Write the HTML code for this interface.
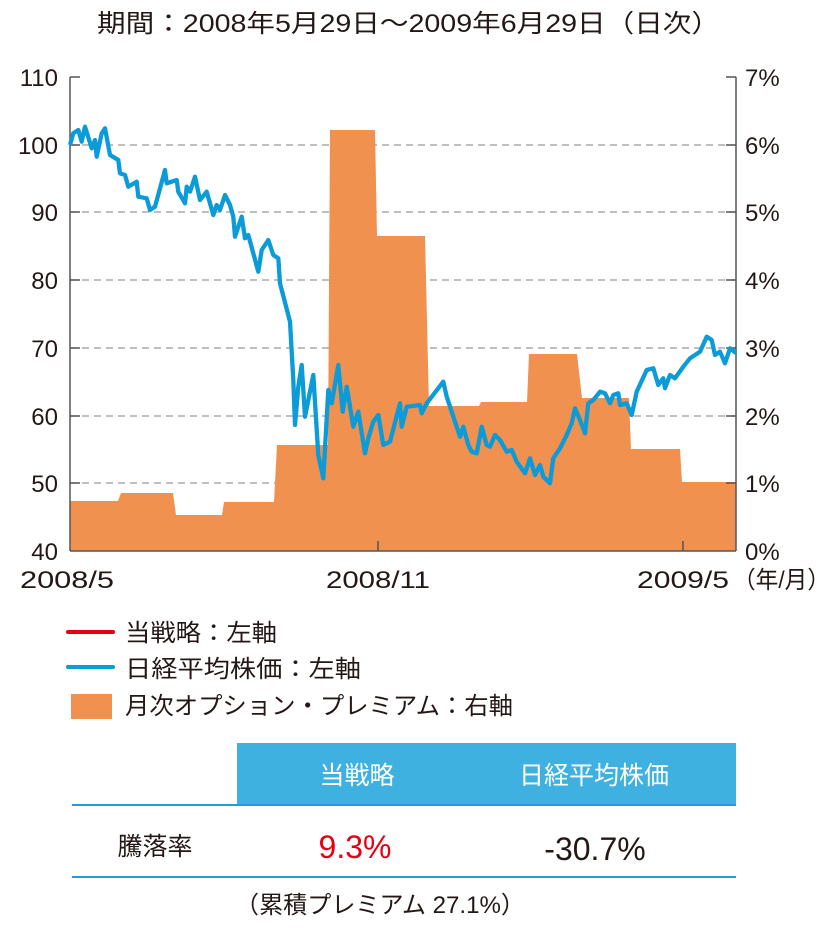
<!DOCTYPE html>
<html><head><meta charset="utf-8">
<style>
html,body{margin:0;padding:0;background:#fff;}
svg{display:block;}
text{font-family:"Liberation Sans","Noto Sans CJK JP",sans-serif;fill:#231815;}
</style></head>
<body>
<svg width="834" height="930" viewBox="0 0 834 930" xmlns="http://www.w3.org/2000/svg">
<text x="97" y="32" font-size="25" textLength="623" lengthAdjust="spacingAndGlyphs">期間：2008年5月29日～2009年6月29日（日次）</text>
<g stroke="#999" stroke-width="1.3" stroke-dasharray="7,5">
<line x1="70" y1="145" x2="736" y2="145"/>
<line x1="70" y1="212" x2="736" y2="212"/>
<line x1="70" y1="280" x2="736" y2="280"/>
<line x1="70" y1="348" x2="736" y2="348"/>
<line x1="70" y1="416" x2="736" y2="416"/>
<line x1="70" y1="483" x2="736" y2="483"/>
</g>
<polygon fill="#f09150" points="70,551 70,501 118,501 121,493 173,493 176,515 222,515 224,502 274,502 277,445 328,445 330,130 375,130 377,236 425,236 429,406 479,406 481,402 527,402 529,354 577,354 582,398 629,398 631,449 680,449 682,482 736,482 736,551"/>
<g stroke="#555" stroke-width="1.5">
<line x1="70" y1="77" x2="70" y2="551"/>
<line x1="736" y1="77" x2="736" y2="551"/>
<line x1="70" y1="551" x2="736" y2="551"/>
<line x1="378" y1="541" x2="378" y2="551"/>
<line x1="683" y1="541" x2="683" y2="551"/>
</g>
<g stroke="#555" stroke-width="1.5">
<line x1="70" y1="77" x2="80" y2="77"/><line x1="70" y1="145" x2="80" y2="145"/><line x1="70" y1="212" x2="80" y2="212"/><line x1="70" y1="280" x2="80" y2="280"/><line x1="70" y1="348" x2="80" y2="348"/><line x1="70" y1="416" x2="80" y2="416"/><line x1="70" y1="483" x2="80" y2="483"/>
<line x1="726" y1="77" x2="736" y2="77"/><line x1="726" y1="145" x2="736" y2="145"/><line x1="726" y1="212" x2="736" y2="212"/><line x1="726" y1="280" x2="736" y2="280"/><line x1="726" y1="348" x2="736" y2="348"/><line x1="726" y1="416" x2="736" y2="416"/><line x1="726" y1="483" x2="736" y2="483"/>
</g>
<polyline fill="none" stroke="#0a9bd8" stroke-width="4.3" stroke-linejoin="round" points="70,145 73.3,133.3 78.3,130 81.7,141.7 85,126.7 91.7,148.3 95,140 96.7,156.7 101.7,133.3 105,128.3 110,155 118.3,160 120,173.3 125,175 128.3,186.7 136.7,181.7 138.3,196.7 146.7,198.3 150,210 155,206.7 165,170 166.7,183.3 176.7,180 178.3,191.7 185,203.3 186.7,186.7 190,191.7 195,176.7 200,200 206.7,191.7 213.3,215 216.7,205 220,210 225,195 230,205 233.3,216.7 235,236.7 241.7,216.7 245,238.3 248.3,235 258.3,271.7 261.7,250 268.3,240 273.3,255 278.3,258.3 280,283.3 290,321.7 293.3,380 295,425 298.3,386.7 301.7,365 305,416.7 313.3,375 318.3,455 323.3,478.3 328.3,390 331.7,403.3 338.3,365 342.7,411.7 346.7,386.7 353.3,426.7 358.3,411.7 365,453.3 368.3,438.3 373.3,421.7 378.3,415 383.3,445 390,441.7 400,403.3 401.7,426.7 406.7,406.7 420,405 421.7,413.3 426.7,403.3 443.3,381.7 446.7,396.7 460,436.7 463.3,426.7 468.3,445 471.7,451.7 476.7,453.3 481.7,426.7 486.7,445 490,446.7 495,435 500,440 506.7,451.7 511.7,450 516.7,461.7 525,473.3 530,458.3 535,475 540,465 543.3,476.7 550,483.3 553.3,458.3 560,448.3 566.7,435 571.7,423.3 575,408.3 580,420 585,433.3 588.3,403.3 593.3,400 600,391.7 605,393.3 610,403.3 613.3,395 618.3,393.3 620,405 626.7,403.3 631.7,415 636.7,391.7 646.7,370 653.3,368.3 658.3,385 663.3,378.3 665,388.3 670,375 675,378.3 683.3,366.7 690,358.3 695,355 700,351.7 706.7,336.7 711.7,340 715,355 720,351.7 725,363.3 730,348.3 736,353"/>
<g font-size="24" text-anchor="end">
<text x="58" y="86">110</text><text x="58" y="154">100</text><text x="58" y="221">90</text><text x="58" y="289">80</text><text x="58" y="357">70</text><text x="58" y="425">60</text><text x="58" y="492">50</text><text x="58" y="560">40</text>
</g>
<g font-size="24">
<text x="745" y="86">7%</text><text x="745" y="154">6%</text><text x="745" y="221">5%</text><text x="745" y="289">4%</text><text x="745" y="357">3%</text><text x="745" y="425">2%</text><text x="745" y="492">1%</text><text x="745" y="560">0%</text>
</g>
<g font-size="24">
<text x="20" y="588" textLength="94" lengthAdjust="spacingAndGlyphs">2008/5</text>
<text x="326" y="588" textLength="104" lengthAdjust="spacingAndGlyphs">2008/11</text>
<text x="637" y="588" textLength="92" lengthAdjust="spacingAndGlyphs">2009/5</text>
<text x="733" y="588" textLength="97" lengthAdjust="spacingAndGlyphs">（年/月）</text>
</g>
<line x1="68" y1="632" x2="113" y2="632" stroke="#e60012" stroke-width="4" stroke-linecap="round"/>
<line x1="68" y1="667" x2="113" y2="667" stroke="#0a9bd8" stroke-width="4" stroke-linecap="round"/>
<rect x="71" y="694" width="41" height="25" fill="#f09150"/>
<g font-size="24">
<text x="125" y="641" textLength="152" lengthAdjust="spacingAndGlyphs">当戦略：左軸</text>
<text x="125" y="677" textLength="236" lengthAdjust="spacingAndGlyphs">日経平均株価：左軸</text>
<text x="125" y="714" textLength="388" lengthAdjust="spacingAndGlyphs">月次オプション・プレミアム：右軸</text>
</g>
<rect x="237" y="743" width="499" height="62" fill="#3fb1e1"/>
<line x1="72" y1="805" x2="736" y2="805" stroke="#1e9fd9" stroke-width="2"/>
<line x1="72" y1="877" x2="736" y2="877" stroke="#1e9fd9" stroke-width="2"/>
<g font-size="25" text-anchor="middle">
<text x="357" y="784" style="fill:#fff">当戦略</text>
<text x="594" y="784" style="fill:#fff">日経平均株価</text>
<text x="155" y="855">騰落率</text>
</g>
<text x="355" y="858" font-size="32" text-anchor="middle" style="fill:#e60012">9.3%</text>
<text x="595" y="860" font-size="32" text-anchor="middle">-30.7%</text>
<text x="380" y="913" font-size="24" text-anchor="middle" textLength="290" lengthAdjust="spacingAndGlyphs">（累積プレミアム 27.1%）</text>
</svg>
</body></html>
